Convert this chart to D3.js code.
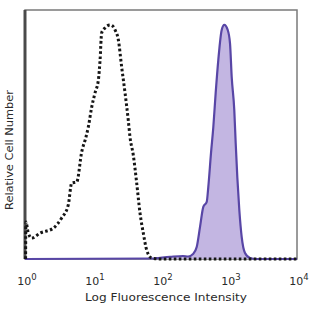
<!DOCTYPE html>
<html>
<head>
<meta charset="utf-8">
<script src="https://cdn.jsdelivr.net/npm/d3@7"></script>
<style>
  body { margin: 0; background: #fff; }
  text { font-family: "DejaVu Sans", Verdana, sans-serif; fill: #2a2a2a; }
</style>
</head>
<body>
<svg id="chart" width="312" height="312"></svg>
<script>
// isotype control (dashed) : intensity, relative count
var controlX = [1.02, 1.03, 1.11, 1.25, 1.66, 2.61, 3.46, 4.33, 4.86, 5.76, 6.82, 7.89, 8.53, 9.57, 10.7, 12.0, 12.7, 13.4, 15.0, 17.8, 19.9, 21.1, 23.6, 26.4, 29.6, 33.0, 35.0, 39.1, 43.9, 49.1, 54.9, 61.6, 73.0, 96.7, 10000];
var controlY = [0, 14.9, 10.8, 8.4, 10.4, 12.4, 16.5, 21.7, 30.5, 30.9, 43.0, 49.0, 53.0, 61.0, 66.7, 71.9, 79.9, 90.8, 92.8, 94.0, 93.3, 92.0, 88.0, 77.1, 66.7, 55.8, 49.0, 41.8, 30.5, 18.5, 10.4, 3.6, 0.4, 0, 0];

// stained sample (filled purple)
var stainX = [1, 68.9, 136, 211, 250, 296, 335, 375, 419, 470, 496, 544, 588, 637, 696, 781, 853, 957, 1034, 1096, 1196, 1254, 1325, 1418, 1538, 1719, 2037, 2495, 10000];
var stainY = [0, 0.2, 0.9, 1.2, 1.0, 2.0, 4.8, 12.9, 20.9, 22.9, 28.9, 42.6, 53.0, 66.7, 79.9, 92.0, 94.0, 92.0, 86.7, 73.1, 59.8, 46.6, 32.9, 19.7, 8.8, 2.4, 0.4, 0, 0];

var tickValues = [1, 10, 100, 1000, 10000];
var tickExps = ["0", "1", "2", "3", "4"];

var svg = d3.select("#chart");
var m = { left: 25, right: 297, top: 10, bottom: 259 };

var x = d3.scaleLog().domain([1, 10000]).range([m.left, m.right]);
var y = d3.scaleLinear().domain([0, 100]).range([m.bottom, m.top]);

var stain = stainX.map(function(v, i) { return [v, stainY[i]]; });
var control = controlX.map(function(v, i) { return [v, controlY[i]]; });

var area = d3.area()
    .x(function(d) { return x(d[0]); })
    .y0(y(0))
    .y1(function(d) { return y(d[1]); })
    .curve(d3.curveMonotoneX);
var line = d3.line()
    .x(function(d) { return x(d[0]); })
    .y(function(d) { return y(d[1]); })
    .curve(d3.curveMonotoneX);

// frame
svg.append("rect")
    .attr("x", m.left).attr("y", m.top)
    .attr("width", m.right - m.left).attr("height", m.bottom - m.top)
    .attr("fill", "none").attr("stroke", "#7a7a7a").attr("stroke-width", 1.5);
svg.append("line")
    .attr("x1", m.left).attr("x2", m.left).attr("y1", m.top).attr("y2", m.bottom)
    .attr("stroke", "#4a4a4a").attr("stroke-width", 3);

svg.append("path")
    .datum(stain)
    .attr("d", area)
    .attr("fill", "#c3b6e2");
svg.append("path")
    .datum(stain)
    .attr("d", line)
    .attr("fill", "none")
    .attr("stroke", "#5846a6")
    .attr("stroke-width", 2.2);

svg.append("path")
    .datum(control)
    .attr("d", line)
    .attr("fill", "none")
    .attr("stroke", "#151515")
    .attr("stroke-width", 3)
    .attr("stroke-dasharray", "2.6,2.4");

// tick labels
var ticks = svg.append("g");
tickValues.forEach(function(v, i) {
    var t = ticks.append("text")
        .attr("x", x(v) + 2)
        .attr("y", 285)
        .attr("text-anchor", "middle")
        .style("font-size", "11px");
    t.append("tspan").text("10");
    t.append("tspan").attr("dy", -5).style("font-size", "8.5px").text(tickExps[i]);
});

svg.append("text")
    .attr("x", 166).attr("y", 301)
    .attr("text-anchor", "middle")
    .attr("textLength", 162)
    .attr("lengthAdjust", "spacingAndGlyphs")
    .style("font-size", "11px")
    .text("Log Fluorescence Intensity");

svg.append("text")
    .attr("transform", "translate(13,150) rotate(-90)")
    .attr("text-anchor", "middle")
    .attr("textLength", 120)
    .attr("lengthAdjust", "spacingAndGlyphs")
    .style("font-size", "10px")
    .text("Relative Cell Number");
</script>
</body>
</html>
